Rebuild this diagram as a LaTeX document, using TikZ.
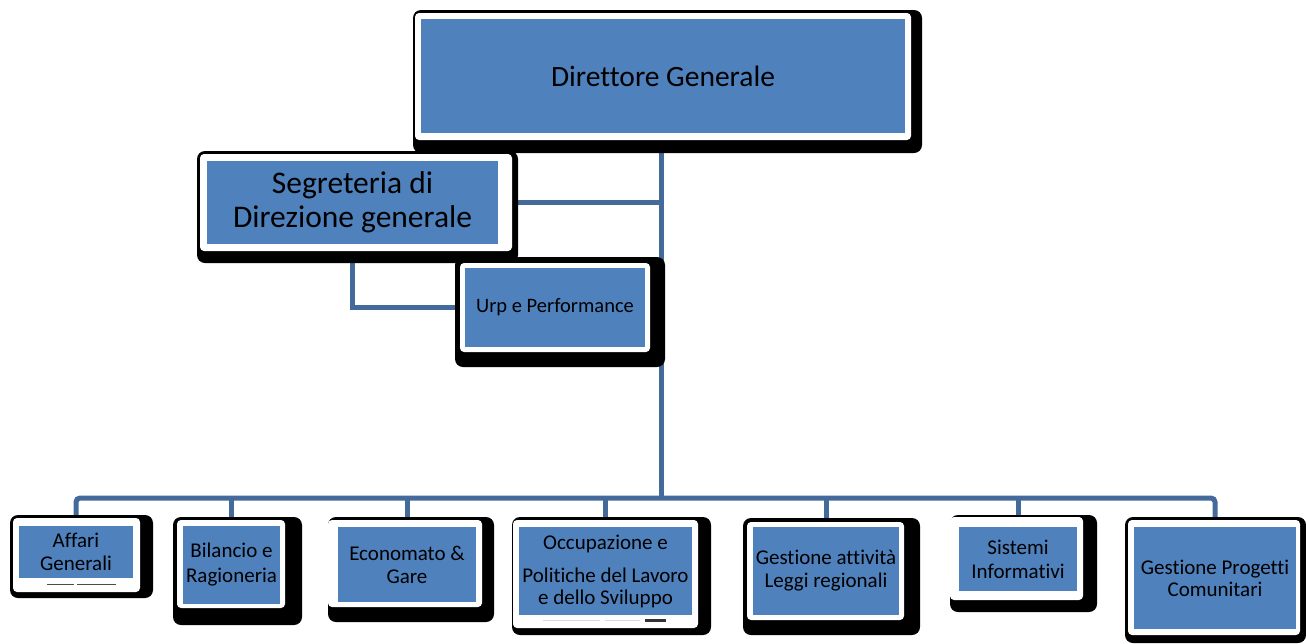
\documentclass[tikz,border=0pt]{standalone}
\usepackage{fontspec}
\setmainfont{Carlito}[Ligatures=NoCommon]
\pgfdeclarelayer{bg}
\pgfsetlayers{bg,main}
\definecolor{boxblue}{HTML}{4F81BD}
\definecolor{linkblue}{HTML}{44699B}
\tikzset{
  bluebox/.style={fill=boxblue, inner sep=0pt, align=center, text=black},
  shadowframe/.style={fill=black, rounded corners=8pt},
  whiteframe/.style={fill=white, rounded corners=4pt},
  conn/.style={draw=linkblue, line width=5pt},
}
\begin{document}
\begin{tikzpicture}[x=1pt,y=-1pt]
\useasboundingbox (0,0) rectangle (1306,643);
% Direttore Generale
\fill[shadowframe] (413,10) rectangle (922,153);
\fill[whiteframe] (415,13) rectangle (911,140);
\node[bluebox, minimum width=484pt, minimum height=114pt, font=\fontsize{29.5}{34}\selectfont] (dir) at (663,76) {Direttore Generale};
% Segreteria
\fill[shadowframe] (197,151) rectangle (518,263);
\fill[whiteframe] (200,154) rectangle (512,251);
\node[bluebox, minimum width=291pt, minimum height=83pt, font=\fontsize{31.5}{34}\selectfont] (seg) at (352.5,202.5) {Segreteria di\\Direzione generale};
% Urp
\fill[shadowframe] (455,257) rectangle (665,367);
\fill[whiteframe] (460,263) rectangle (650,352);
\node[bluebox, minimum width=180pt, minimum height=79pt, font=\fontsize{20.5}{24}\selectfont] (urp) at (555,307.5) {Urp e Performance};
% Affari Generali
\fill[shadowframe] (10,515) rectangle (153,598);
\fill[whiteframe] (13,518) rectangle (140,592);
\node[bluebox, minimum width=114pt, minimum height=52pt, font=\fontsize{21}{23}\selectfont] (aff) at (76,552) {Affari\\Generali};
\draw[gray!60!black, line width=0.8pt] (47,584) -- (74,584) (77,584) -- (116,584);
% Bilancio
\fill[shadowframe] (173,517) rectangle (302,625);
\fill[whiteframe] (177,520) rectangle (285,608);
\node[bluebox, minimum width=97pt, minimum height=78pt, font=\fontsize{21}{25}\selectfont] (bil) at (231.5,565) {Bilancio e\\Ragioneria};
% Economato
\fill[shadowframe] (328,517) rectangle (494,622);
\fill[whiteframe] (328,520) rectangle (482,607);
\node[bluebox, minimum width=138pt, minimum height=75pt, font=\fontsize{21}{23}\selectfont] (eco) at (407,564.5) {Economato \&\\Gare};
% Occupazione
\fill[shadowframe] (512,517) rectangle (711,635);
\fill[whiteframe] (513,520) rectangle (698,628);
\node[bluebox, minimum width=173pt, minimum height=88pt, font=\fontsize{21}{22}\selectfont] (occ) at (605.5,571) {Occupazione e\\[11pt]Politiche del Lavoro\\e dello Sviluppo};
\draw[gray!30, line width=0.8pt] (543,620) -- (600,620) (605,620) -- (640,620);
\fill[black!80] (645,618.5) rectangle (666,622);
% Gestione attivita
\fill[shadowframe] (743,518) rectangle (920,635);
\fill[whiteframe] (747,522) rectangle (904,620);
\node[bluebox, minimum width=146pt, minimum height=88pt, font=\fontsize{21}{23}\selectfont] (gat) at (826,571) {Gestione attività\\Leggi regionali};
% Sistemi Informativi
\fill[shadowframe] (950,515) rectangle (1097,612);
\fill[whiteframe] (950,517) rectangle (1083,600);
\node[bluebox, minimum width=118pt, minimum height=64pt, font=\fontsize{21}{24}\selectfont] (sis) at (1018,559) {Sistemi\\Informativi};
% Gestione Progetti Comunitari
\fill[shadowframe] (1125,517) rectangle (1306,643);
\fill[whiteframe] (1128,520) rectangle (1300,635);
\node[bluebox, minimum width=162pt, minimum height=102pt, font=\fontsize{21}{22}\selectfont] (gpc) at (1215,578) {Gestione Progetti\\Comunitari};
% connectors
\coordinate (bus) at (0,498);
\coordinate (trunk) at (661,0);
\begin{pgfonlayer}{bg}
\draw[conn] (dir.south -| trunk) -- (urp.north -| trunk);
\draw[conn] (seg.east) -- (seg.east -| trunk);
\draw[conn] (seg.south) |- (urp.west);
\draw[conn] (urp.south -| trunk) -- (trunk |- bus);
\draw[conn, rounded corners=4pt] (aff.north) -- (aff.north |- bus) -- (gpc.north |- bus) -- (gpc.north);
\draw[conn] (bil.north) -- (bil.north |- bus);
\draw[conn] (eco.north) -- (eco.north |- bus);
\draw[conn] (occ.north) -- (occ.north |- bus);
\draw[conn] (gat.north) -- (gat.north |- bus);
\draw[conn] (sis.north) -- (sis.north |- bus);
\end{pgfonlayer}
\end{tikzpicture}
\end{document}
